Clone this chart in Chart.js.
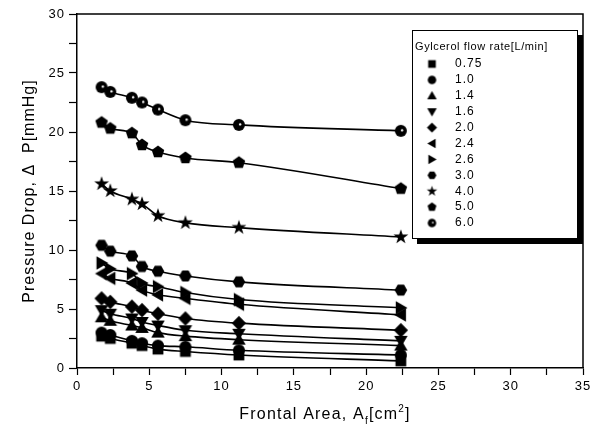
<!DOCTYPE html>
<html>
<head>
<meta charset="utf-8">
<script src="https://cdn.jsdelivr.net/npm/chart.js@4.4.1/dist/chart.umd.min.js"></script>
<style>
  html, body { margin: 0; padding: 0; background: #fff; }
  #wrap { width: 600px; height: 430px; position: relative; }
</style>
</head>
<body>
<div id="wrap"><canvas id="chart" width="600" height="430"></canvas></div>
<script>
// frontal area [cm^2]
const areas = [1.7, 2.3, 3.8, 4.5, 5.6, 7.5, 11.2, 22.4];

// glycerol flow rates [L/min] (legend labels)
const flowRates = ['0.75', '1.0', '1.4', '1.6', '2.0', '2.4', '2.6', '3.0', '4.0', '5.0', '6.0'];

// pressure drop [mmHg] per flow rate
const dp075 = [2.7, 2.5, 2.1, 1.9, 1.6, 1.4, 1.1, 0.6];
const dp10  = [3.0, 2.8, 2.3, 2.1, 1.9, 1.8, 1.5, 1.1];
const dp14  = [4.3, 4.0, 3.6, 3.4, 3.0, 2.7, 2.4, 1.9];
const dp16  = [4.9, 4.6, 4.2, 3.9, 3.6, 3.2, 2.9, 2.3];
const dp20  = [5.9, 5.6, 5.2, 4.9, 4.6, 4.2, 3.8, 3.2];
const dp24  = [8.0, 7.6, 7.2, 6.6, 6.2, 5.9, 5.4, 4.5];
const dp26  = [8.9, 8.4, 8.0, 7.2, 6.9, 6.4, 5.8, 5.1];
const dp30  = [10.4, 9.9, 9.5, 8.6, 8.2, 7.8, 7.3, 6.6];
const dp40  = [15.6, 15.0, 14.3, 13.9, 12.9, 12.3, 11.9, 11.1];
const dp50  = [20.8, 20.3, 19.9, 18.9, 18.3, 17.8, 17.4, 15.2];
const dp60  = [23.8, 23.4, 22.9, 22.5, 21.9, 21.0, 20.6, 20.1];

const seriesValues = [dp075, dp10, dp14, dp16, dp20, dp24, dp26, dp30, dp40, dp50, dp60];
const markerShapes = ['square', 'circle', 'triUp', 'triDown', 'diamond', 'triLeft', 'triRight', 'hexagon', 'star', 'pentagon', 'ring'];

// axis ticks
const xTicks = [0, 5, 10, 15, 20, 25, 30, 35];
const yTicks = [0, 5, 10, 15, 20, 25, 30];

const FONT = '"Liberation Sans", Arial, Helvetica, sans-serif';

// build a filled marker as a small canvas so it can be used as pointStyle
function makeMarker(shape, size) {
  const s = Math.ceil(size * 1.5) + 4;
  const c = document.createElement('canvas');
  c.width = s; c.height = s;
  const g = c.getContext('2d');
  g.translate(s / 2, s / 2);
  g.fillStyle = '#000';
  const r = size / 2;
  const poly = (angles, rad, dx) => {
    g.beginPath();
    angles.forEach((a, i) => {
      const t = a * Math.PI / 180;
      const x = Math.cos(t) * rad + (dx || 0), y = Math.sin(t) * rad;
      if (i === 0) g.moveTo(x, y); else g.lineTo(x, y);
    });
    g.closePath();
    g.fill();
  };
  switch (shape) {
    case 'square':
      g.fillRect(-r * 0.9, -r * 0.9, r * 1.8, r * 1.8);
      break;
    case 'circle':
      g.beginPath(); g.arc(0, 0, r, 0, Math.PI * 2); g.fill();
      break;
    case 'ring':
      g.beginPath(); g.arc(0, 0, r, 0, Math.PI * 2); g.fill();
      g.fillStyle = '#fff';
      g.beginPath(); g.arc(r * 0.2, -r * 0.1, r * 0.2, 0, Math.PI * 2); g.fill();
      break;
    case 'triUp': {
      g.save(); g.translate(0, r * 0.2); poly([-90, 30, 150], r * 1.3); g.restore();
      break;
    }
    case 'triDown': {
      g.save(); g.translate(0, -r * 0.2); poly([90, 210, 330], r * 1.3); g.restore();
      break;
    }
    case 'triLeft': {
      g.save(); g.translate(r * 0.2, 0); poly([180, 300, 60], r * 1.3); g.restore();
      break;
    }
    case 'triRight': {
      g.save(); g.translate(-r * 0.2, 0); poly([0, 120, 240], r * 1.3); g.restore();
      break;
    }
    case 'diamond':  poly([0, 90, 180, 270], r * 1.2); break;
    case 'hexagon':  poly([0, 60, 120, 180, 240, 300], r * 1.05); break;
    case 'pentagon': poly([-90, -18, 54, 126, 198], r * 1.1); break;
    case 'star': {
      g.beginPath();
      for (let i = 0; i < 10; i++) {
        const rad = (i % 2 === 0 ? r * 1.3 : r * 0.5);
        const t = (-90 + i * 36) * Math.PI / 180;
        if (i === 0) g.moveTo(Math.cos(t) * rad, Math.sin(t) * rad);
        else g.lineTo(Math.cos(t) * rad, Math.sin(t) * rad);
      }
      g.closePath();
      g.fill();
      break;
    }
  }
  return c;
}

const plotMarkers = markerShapes.map(s => makeMarker(s, 12));
const legendMarkers = markerShapes.map(s => makeMarker(s, 8.5));

const datasets = seriesValues.map((vals, i) => ({
  label: flowRates[i],
  data: vals.map((v, j) => ({ x: areas[j], y: v })),
  borderColor: '#000',
  borderWidth: 1.6,
  backgroundColor: '#000',
  pointStyle: plotMarkers[i],
  pointRadius: 6,
  cubicInterpolationMode: 'monotone',
  fill: false
}));

// frame, legend box and x title with sub/superscript
const decorations = {
  id: 'decorations',
  beforeDraw(chart) {
    chart.ctx.letterSpacing = '1px';
  },
  afterDraw(chart) {
    const ctx = chart.ctx;
    const a = chart.chartArea;
    ctx.save();
    ctx.letterSpacing = '1px';
    ctx.strokeStyle = '#000';
    ctx.lineWidth = 1.5;
    ctx.beginPath();
    ctx.moveTo(a.left, a.top);
    ctx.lineTo(a.right, a.top);
    ctx.lineTo(a.right, a.bottom);
    ctx.stroke();

    // legend box with drop shadow
    const bx = a.right - 171, by = a.top + 16, bw = 165, bh = 208;
    ctx.fillStyle = '#000';
    ctx.fillRect(bx + 5, by + 5, bw + 1, bh + 1);
    ctx.fillStyle = '#fff';
    ctx.fillRect(bx, by, bw, bh);
    ctx.lineWidth = 1;
    ctx.strokeRect(bx + 0.5, by + 0.5, bw, bh);

    ctx.fillStyle = '#000';
    ctx.textBaseline = 'middle';
    ctx.textAlign = 'left';
    ctx.font = '11px ' + FONT;
    ctx.letterSpacing = '0.6px';
    ctx.fillText('Gylcerol flow rate[L/min]', bx + 3, by + 17);
    ctx.font = '12px ' + FONT;
    ctx.letterSpacing = '1px';
    flowRates.forEach((lab, i) => {
      const y = by + 34 + i * 15.9;
      const m = legendMarkers[i];
      ctx.drawImage(m, bx + 20 - m.width / 2, y - m.height / 2);
      ctx.fillText(lab, bx + 43, y);
    });

    // x axis title: Frontal Area, A_f[cm^2]
    ctx.letterSpacing = '1.2px';
    const big = '16px ' + FONT, sub = '10px ' + FONT;
    const parts = [
      { t: 'Frontal Area, A', f: big, dy: 0 },
      { t: 'f', f: sub, dy: 5 },
      { t: '[cm', f: big, dy: 0 },
      { t: '2', f: sub, dy: -7 },
      { t: ']', f: big, dy: 0 }
    ];
    let total = 0;
    parts.forEach(p => { ctx.font = p.f; total += ctx.measureText(p.t).width; });
    let x = (a.left + a.right) / 2 - 5 - total / 2;
    const baseY = 419;
    ctx.textBaseline = 'alphabetic';
    parts.forEach(p => {
      ctx.font = p.f;
      ctx.fillText(p.t, x, baseY + p.dy);
      x += ctx.measureText(p.t).width;
    });
    ctx.restore();
  }
};

new Chart(document.getElementById('chart'), {
  type: 'line',
  data: { datasets },
  options: {
    responsive: false,
    animation: false,
    layout: { padding: { top: 14, right: 17, left: 0, bottom: 0 } },
    plugins: {
      legend: { display: false },
      tooltip: { enabled: false }
    },
    scales: {
      x: {
        type: 'linear',
        min: xTicks[0],
        max: xTicks[xTicks.length - 1],
        afterFit: s => { s.height = 62; },
        border: { color: '#000', width: 1.5 },
        grid: { drawOnChartArea: false, tickColor: '#000', tickLength: 7, tickWidth: 1.2 },
        ticks: {
          stepSize: 2.5,
          autoSkip: false,
          maxRotation: 0,
          color: '#000',
          padding: 4,
          font: { family: FONT, size: 13 },
          callback: v => (xTicks.includes(v) ? String(v) : '')
        },
        title: { display: false }
      },
      y: {
        min: yTicks[0],
        max: yTicks[yTicks.length - 1],
        afterFit: s => { s.width = 77; },
        border: { color: '#000', width: 1.5 },
        grid: { drawOnChartArea: false, tickColor: '#000', tickLength: 8, tickWidth: 1.2 },
        ticks: {
          stepSize: 2.5,
          autoSkip: false,
          color: '#000',
          padding: 4,
          font: { family: FONT, size: 13 },
          callback: v => (yTicks.includes(v) ? String(v) : '')
        },
        title: {
          display: true,
          text: 'Pressure Drop, \u0394  P[mmHg]',
          color: '#000',
          font: { family: FONT, size: 16 },
          padding: { top: 20, bottom: 0 }
        }
      }
    }
  },
  plugins: [decorations]
});
</script>
</body>
</html>
